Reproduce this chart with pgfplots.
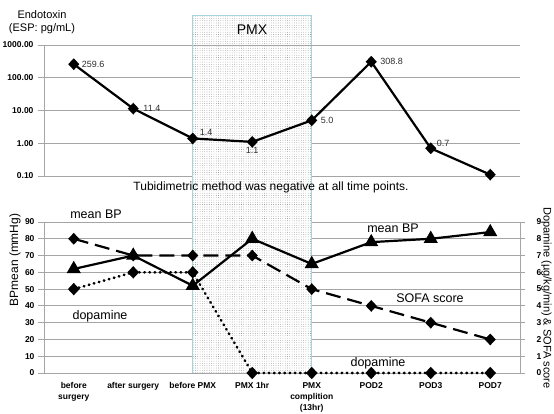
\documentclass[border=0pt]{standalone}
\usepackage{fontspec}
\setmainfont{Liberation Sans}
\usepackage{pgfplots}
\pgfplotsset{compat=1.18}
\usetikzlibrary{patterns.meta}

\definecolor{gridgray}{RGB}{165,165,165}
\definecolor{pmxborder}{RGB}{165,212,222}
\definecolor{dotgray}{RGB}{110,110,110}
\definecolor{labelgray}{RGB}{45,45,45}

\pgfplotsset{
  common/.style={
    scale only axis, anchor=south west, width=476pt,
    xmin=-0.5, xmax=7.5,
    /pgf/number format/assume math mode=true,
    tick align=outside,
    every tick label/.append style={font=\bfseries\fontsize{8.5}{11}\selectfont, text=black},
    axis line style={-, gridgray, line width=0.8pt},
    grid style={gridgray, line width=0.8pt},
    every tick/.style={gridgray, line width=0.8pt},
  },
  diam/.style={mark=diamond*, mark size=4.3pt, mark options={solid, xscale=1.25, fill=black, draw=black}},
}

\begin{document}
\begin{tikzpicture}[x=1pt,y=1pt]
\path[use as bounding box] (0,0) rectangle (554,414);

% ---------------- top panel: endotoxin ----------------
\begin{axis}[common,
  at={(44pt,238pt)}, height=131pt,
  ymode=log, ymin=0.1, ymax=1000,
  axis y line*=left, axis x line=none,
  xtick=\empty,
  ytick={0.1,1,10,100,1000},
  yticklabels={0.10,1.00,10.00,100.00,1000.00},
  yminorticks=false,
  ymajorgrids,
  major tick length=6pt,
  yticklabel style={xshift=-1pt},
  clip=false,
]
\fill[white] ({rel axis cs:0.3125,-0.221}) rectangle ({rel axis cs:0.5625,1.229});
\fill[pattern={Dots[radius=0.33pt,distance=2.3pt]}, pattern color=dotgray]
  ({rel axis cs:0.3125,-0.221}) rectangle ({rel axis cs:0.5625,1.229});
\draw[pmxborder, line width=0.7pt] ({rel axis cs:0.3125,-0.221}) -- ({rel axis cs:0.3125,1.229})
  -- ({rel axis cs:0.5625,1.229}) -- ({rel axis cs:0.5625,-0.221});
\draw[gridgray, line width=0.8pt] ({rel axis cs:0.3125,1}) -- ({rel axis cs:0.5625,1});

\addplot[black, line width=2.2pt, diam] coordinates {
  (0,259.6) (1,11.4) (2,1.4) (3,1.1) (4,5.0) (5,308.8) (6,0.7) (7,0.11)
};

\begin{scope}[every node/.style={font=\fontsize{9}{10}\selectfont, text=labelgray, inner sep=1pt}]
\node[anchor=west] at (axis cs:0,259.6) [xshift=7pt] {259.6};
\node[anchor=west] at (axis cs:1,11.4) [xshift=9pt] {11.4};
\node[anchor=south west] at (axis cs:2,1.4) [xshift=6pt, yshift=2pt] {1.4};
\node[anchor=north] at (axis cs:3,1.1) [yshift=-4pt] {1.1};
\node[anchor=west] at (axis cs:4,5.0) [xshift=8pt] {5.0};
\node[anchor=west] at (axis cs:5,308.8) [xshift=8pt] {308.8};
\node[anchor=south west] at (axis cs:6,0.7) [xshift=5pt, yshift=1pt] {0.7};
\end{scope}
\end{axis}

% ---------------- bottom panel: mean BP (left axis) ----------------
\begin{axis}[common,
  at={(44pt,41pt)}, height=151pt,
  ymin=0, ymax=90,
  axis y line*=left, axis x line*=bottom,
  ytick={0,10,...,90},
  ymajorgrids,
  major tick length=6pt,
  xtick={0,...,7},
  xticklabels={{before\\surgery},{after surgery},{before PMX},{PMX 1hr},{PMX\\complition\\(13hr)},{POD2},{POD3},{POD7}},
  xticklabel style={align=center, yshift=0pt},
  x tick style={draw=none},
  extra x ticks={0.5,1.5,2.5,3.5,4.5,5.5,6.5},
  extra x tick labels={},
  extra x tick style={grid=none, major tick length=4pt, tick style={gridgray, line width=0.8pt}},
  clip=false,
]
\fill[white] ({rel axis cs:0.3125,0}) rectangle ({rel axis cs:0.5625,1.113});
\fill[pattern={Dots[radius=0.33pt,distance=2.3pt]}, pattern color=dotgray]
  ({rel axis cs:0.3125,0}) rectangle ({rel axis cs:0.5625,1.113});
\draw[pmxborder, line width=0.7pt] ({rel axis cs:0.3125,1.113}) -- ({rel axis cs:0.3125,0});
\draw[pmxborder, line width=0.7pt] ({rel axis cs:0.5625,1.113}) -- ({rel axis cs:0.5625,0});

\addplot[black, line width=2.2pt, mark=triangle*, mark size=6pt, mark options={solid}] coordinates {
  (0,62) (1,70) (2,52) (3,80) (4,65) (5,78) (6,80) (7,84)
};
\end{axis}

% ---------------- bottom panel: SOFA & dopamine (right axis) ----------------
\begin{axis}[common,
  at={(44pt,41pt)}, height=151pt,
  ymin=0, ymax=9,
  axis y line*=right, axis x line=none,
  ytick={0,...,9},
  major tick length=5pt,
  yticklabel style={xshift=8pt},
  clip=false,
]
\addplot[black, line width=2.2pt, dash pattern=on 15pt off 7pt, diam] coordinates {
  (0,8) (1,7) (2,7) (3,7) (4,5) (5,4) (6,3) (7,2)
};
\addplot[black, line width=2.6pt, line cap=round, dash pattern=on 0.6pt off 4.6pt, diam] coordinates {
  (0,5) (1,6) (2,6) (3,0) (4,0) (5,0) (6,0) (7,0)
};
\end{axis}

% ---------------- texts ----------------
\node[font=\fontsize{11}{13}\selectfont, align=center] at (42,391.5) {Endotoxin\\(ESP: pg/mL)};
\node[font=\fontsize{14}{16}\selectfont] at (252,384) {PMX};
\node[font=\fontsize{12}{14}\selectfont] at (271,227) {Tubidimetric method was negative at all time points.};
\node[font=\fontsize{12.5}{14}\selectfont] at (96,200) {mean BP};
\node[font=\fontsize{12.5}{14}\selectfont] at (100,98) {dopamine};
\node[font=\fontsize{12.5}{14}\selectfont] at (393,186) {mean BP};
\node[font=\fontsize{12.5}{14}\selectfont] at (430,116) {SOFA score};
\node[font=\fontsize{12.5}{14}\selectfont] at (378,51) {dopamine};
\node[font=\fontsize{12}{14}\selectfont, rotate=90] at (15,154) {BPmean (mmHg)};
\node[font=\fontsize{11}{13}\selectfont, rotate=-90, inner sep=0pt] at (546.5,116) {Dopamine (\textmu g/kg/min) \& SOFA score};
\end{tikzpicture}
\end{document}
